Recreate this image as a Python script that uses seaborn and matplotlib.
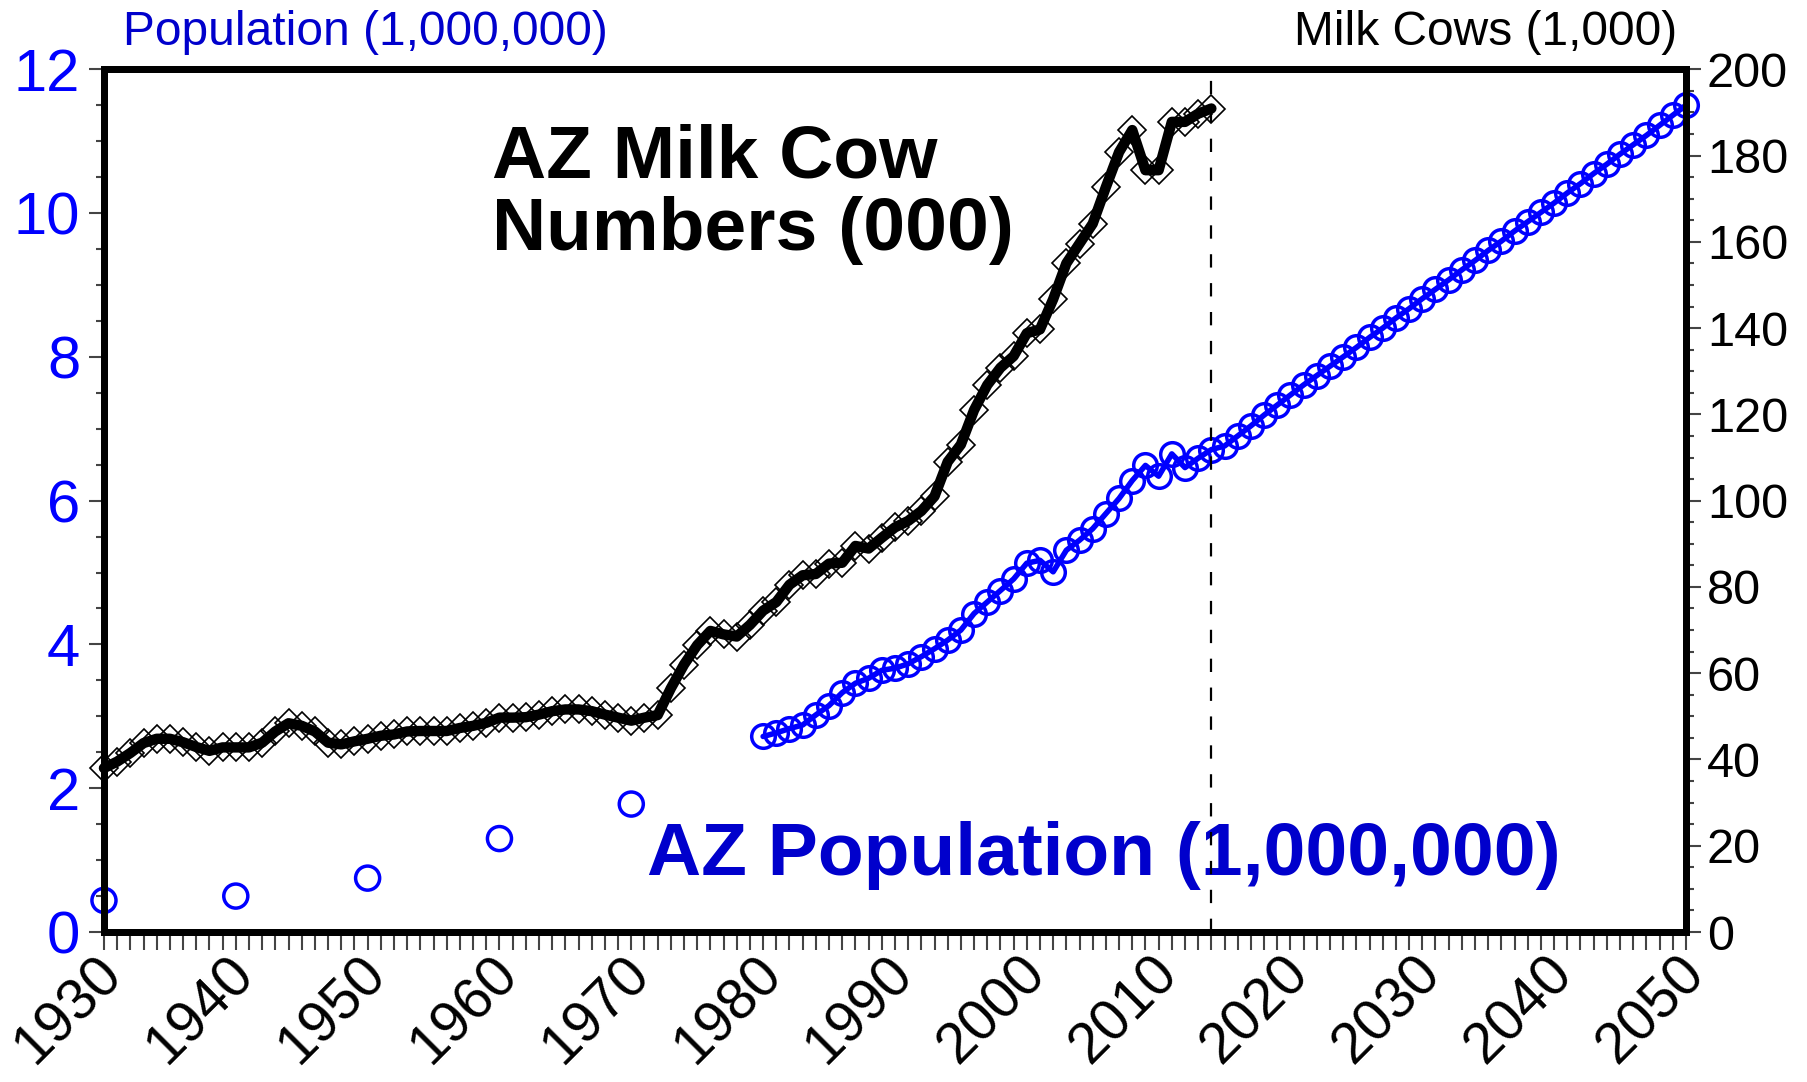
import numpy as np
import pandas as pd
import matplotlib
matplotlib.use("Agg")
import matplotlib.pyplot as plt
import matplotlib.transforms as mtransforms
import seaborn as sns
from matplotlib.ticker import MultipleLocator

# =========================
# DATA

# AZ milk cows (1,000 head), yearly 1930-2014
cow_years = np.arange(1930, 2015)
cow_values = [
    38.0, 39.5, 41.5, 43.8, 44.8, 44.8, 44.0, 42.9, 42.0, 42.8,
    42.8, 42.8, 43.9, 46.5, 48.4, 47.8, 46.5, 43.9, 43.5, 44.2,
    44.8, 45.5, 45.8, 46.5, 46.6, 46.6, 46.6, 47.3, 47.8, 48.5,
    49.7, 49.7, 49.8, 50.4, 51.2, 51.6, 51.6, 51.2, 50.4, 49.7,
    49.0, 49.7, 50.3, 56.5, 62.0, 66.5, 69.8, 69.0, 68.5, 71.2,
    74.5, 76.5, 80.5, 82.7, 83.0, 85.4, 85.6, 89.5, 88.9, 91.4,
    93.8, 95.3, 97.6, 101.0, 109.0, 113.0, 121.0, 126.8, 130.8, 133.5,
    138.8, 139.7, 146.7, 155.0, 159.6, 164.2, 172.7, 180.8, 185.9, 176.6,
    176.6, 187.8, 187.8, 189.7, 190.9,
]

# AZ population (millions), census decades
census_years = [1930, 1940, 1950, 1960, 1970]
census_values = [0.44, 0.50, 0.75, 1.30, 1.78]

# AZ population (millions), yearly 1980-2050 incl. projection
pop_years = np.arange(1980, 2051)
pop_values = [
    2.72, 2.77, 2.83, 2.88, 3.02, 3.15, 3.33, 3.46, 3.53, 3.64,
    3.67, 3.73, 3.83, 3.94, 4.06, 4.20, 4.43, 4.59, 4.75, 4.91,
    5.13, 5.17, 5.01, 5.31, 5.45, 5.61, 5.82, 6.03, 6.28, 6.49,
    6.34, 6.65, 6.46, 6.59, 6.71, 6.76, 6.90, 7.04, 7.19, 7.33,
    7.47, 7.61, 7.74, 7.87, 8.00, 8.13, 8.27, 8.40, 8.54, 8.67,
    8.81, 8.94, 9.07, 9.21, 9.34, 9.48, 9.61, 9.75, 9.88, 10.01,
    10.14, 10.28, 10.41, 10.55, 10.68, 10.82, 10.95, 11.08, 11.22, 11.36,
    11.50,
]

last_actual = 2014
x_ticks = list(range(1930, 2051, 10))

cows = pd.DataFrame({"year": cow_years, "cows": cow_values})
census = pd.DataFrame({"year": census_years, "pop": census_values})
pop = pd.DataFrame({"year": pop_years, "pop": pop_values})

# =========================
# PLOT

sns.set_style("ticks")
plt.rcParams["font.family"] = ["Liberation Sans", "DejaVu Sans"]

BLUE = "#0000FF"
DARK_BLUE = "#0000CC"

fig, ax = plt.subplots(figsize=(18.08, 10.82), dpi=100)
fig.subplots_adjust(left=0.0575, right=0.9325, bottom=0.1386, top=0.936)
ax2 = ax.twinx()

# population (left axis)
sns.scatterplot(data=census, x="year", y="pop", ax=ax, s=300, marker="o",
                facecolor="none", edgecolor=BLUE, linewidth=2.5, clip_on=False,
                zorder=3)
sns.lineplot(data=pop, x="year", y="pop", ax=ax, color=BLUE, lw=4,
             marker="o", ms=17, mfc="none", mec=BLUE, mew=2.5, clip_on=False,
             zorder=3)

# milk cows (right axis)
sns.lineplot(data=cows, x="year", y="cows", ax=ax2, color="black", lw=7.5,
             marker="D", ms=14.5, mfc="none", mec="black", mew=1.2,
             clip_on=False, zorder=3)

ax2.axvline(last_actual, color="black", lw=1.6, ls=(0, (6, 7)), zorder=2)

ax.set_xlim(1930, 2050)
ax.set_ylim(0, 12)
ax2.set_ylim(0, 200)

ax.set_xlabel("")
ax.set_ylabel("")
ax2.set_ylabel("")

ax.set_xticks(x_ticks)
ax.set_xticklabels([str(y) for y in x_ticks], rotation=45, ha="right",
                   va="center", rotation_mode="anchor")
ax.xaxis.set_minor_locator(MultipleLocator(1))
ax.yaxis.set_major_locator(MultipleLocator(2))
ax.yaxis.set_minor_locator(MultipleLocator(0.5))
ax2.yaxis.set_major_locator(MultipleLocator(20))
ax2.yaxis.set_minor_locator(MultipleLocator(5))

ax.tick_params(axis="x", which="both", direction="out", length=13, width=1.5,
               color="#444444", labelsize=41, pad=11, labelcolor="black")
ax.tick_params(axis="y", which="major", direction="out", length=11, width=1.5,
               color="#444444", labelsize=43, labelcolor=BLUE, pad=6)
ax.tick_params(axis="y", which="minor", direction="out", length=6, width=1.5,
               color="#444444")
ax2.tick_params(axis="y", which="major", direction="out", length=11, width=1.5,
                color="#444444", labelsize=35, labelcolor="black", pad=4)
ax2.tick_params(axis="y", which="minor", direction="out", length=6, width=1.5,
                color="#444444")

# nudge the rotated year labels a little to the right
shift = mtransforms.ScaledTranslation(10 / 100, 0, fig.dpi_scale_trans)
for lbl in ax.get_xticklabels():
    lbl.set_transform(lbl.get_transform() + shift)

for a in (ax, ax2):
    for sp in a.spines.values():
        sp.set_linewidth(5)
        sp.set_color("black")
        sp.set_visible(True)

# axis captions
fig.text(0.068, 0.958, "Population (1,000,000)", color=DARK_BLUE, fontsize=34.5,
         ha="left", va="baseline")
fig.text(0.9275, 0.958, "Milk Cows (1,000)", color="black", fontsize=34.5,
         ha="right", va="baseline")

# series labels
ax.text(1959.4, 10.50, "AZ Milk Cow", fontsize=54, fontweight="bold",
        color="black", ha="left", va="baseline")
ax.text(1959.4, 9.48, "Numbers (000)", fontsize=54, fontweight="bold",
        color="black", ha="left", va="baseline")
ax.text(1971.2, 0.79, "AZ Population (1,000,000)", fontsize=54,
        fontweight="bold", color=DARK_BLUE, ha="left", va="baseline",
        zorder=5)

fig.savefig("out.png", dpi=100)
